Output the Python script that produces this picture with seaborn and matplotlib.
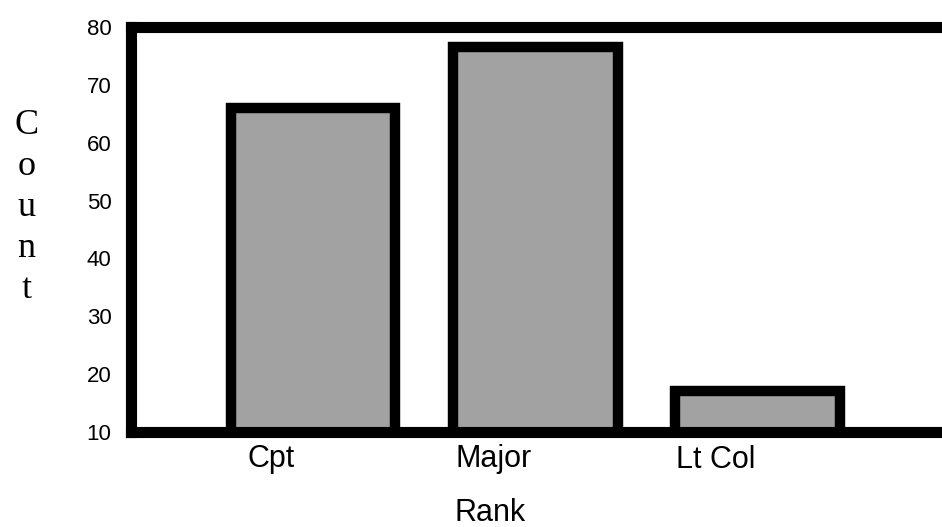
import pandas as pd
import seaborn as sns
import matplotlib.pyplot as plt
import matplotlib.transforms as mtransforms

# data
ranks = ['Cpt', 'Major', 'Lt Col']
counts = [66, 76.5, 17]
y_ticks = [10, 20, 30, 40, 50, 60, 70, 80]

df = pd.DataFrame({'Rank': ranks, 'Count': counts})

sns.set_style('white')
plt.rcParams['font.family'] = ['Liberation Sans', 'DejaVu Sans']
plt.rcParams['text.color'] = 'black'
plt.rcParams['xtick.color'] = 'black'
plt.rcParams['ytick.color'] = 'black'
plt.rcParams['axes.labelcolor'] = 'black'

fig = plt.figure(figsize=(9.42, 5.27), dpi=100)
ax = fig.add_axes([131 / 942, 1 - 432 / 527, 1 - 131 / 942, 405 / 527])

sns.barplot(data=df, x='Rank', y='Count', color='#a2a2a2', edgecolor='black',
            linewidth=7.5, width=0.74, saturation=1, ax=ax)

ax.set_ylim(10, 80)
ax.set_xlim(-0.82, 2.83)
ax.set_yticks(y_ticks)
ax.set_yticklabels([str(v) for v in y_ticks], fontsize=16)
ax.tick_params(axis='y', length=0, pad=14)
ax.tick_params(axis='x', length=0, pad=9, labelsize=22)

# labels sit a little left of the bar centres in the original
shift = mtransforms.ScaledTranslation(-0.42, 0, fig.dpi_scale_trans)
for lbl in ax.get_xticklabels():
    lbl.set_transform(lbl.get_transform() + shift)

for side in ['left', 'top', 'bottom']:
    ax.spines[side].set_visible(True)
    ax.spines[side].set_linewidth(8)
    ax.spines[side].set_color('black')
ax.spines['right'].set_visible(False)

ax.set_xlabel('Rank', fontsize=22)
ax.xaxis.set_label_coords(0.443, -0.2)
ax.xaxis.label.set_va('center')

ax.set_ylabel('C\no\nu\nn\nt', rotation=0, fontsize=26,
              family=['Liberation Serif', 'DejaVu Serif'], linespacing=1.32)
ax.yaxis.set_label_coords(-0.129, 0.555)
ax.yaxis.label.set_va('center')
ax.yaxis.label.set_ha('center')

fig.savefig('out.png', dpi=100)
